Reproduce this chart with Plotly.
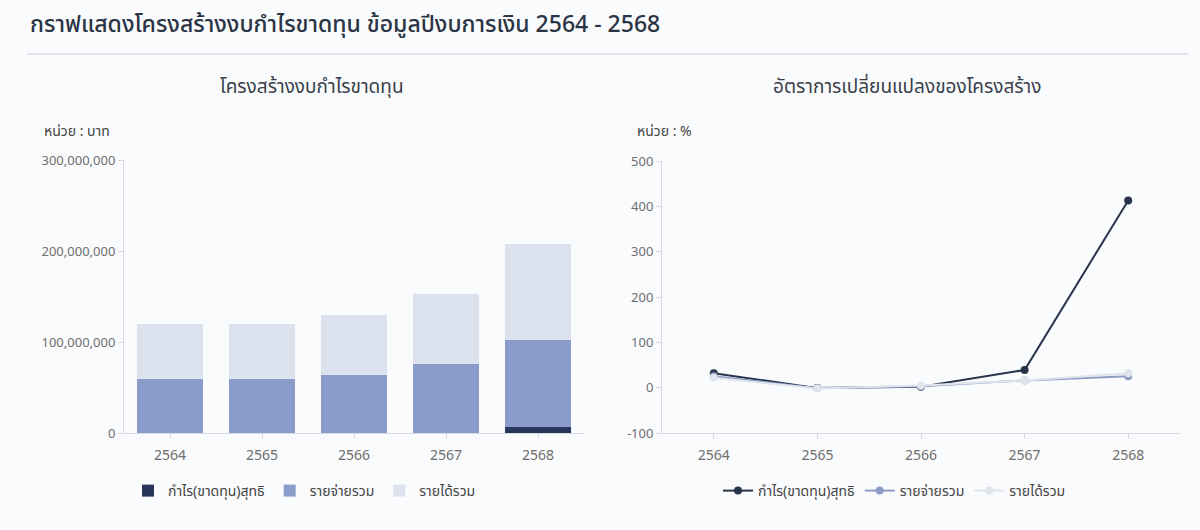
import plotly.graph_objects as go

years = ["2564", "2565", "2566", "2567", "2568"]

# Left chart (บาท) – stacked values
profit = [400000, 400000, 400000, 500000, 6300000]
expense = [58600000, 58600000, 63800000, 75800000, 96300000]
income = [60500000, 60900000, 65100000, 76900000, 105500000]

# Right chart (%) – rate of change
profit_pct = [32, -1, 2, 39, 413]
expense_pct = [25, -1, 3, 16, 25]
income_pct = [22, -2, 5, 16, 32]

names = ["กำไร(ขาดทุน)สุทธิ", "รายจ่ายรวม", "รายได้รวม"]
bar_colors = ["#27365a", "#8a9dca", "#dde3ee"]
line_colors = ["#27344a", "#8d9dc6", "#e0e4ec"]

W, H = 1200, 530
def px(x): return x / W
def py(y): return 1 - y / H

FONT = "Noto Sans Thai, Kanit, Prompt, Noto Sans, DejaVu Sans, sans-serif"
GRAY = "#6e6e6e"
AX = "#d6d9df"

fig = go.Figure()

for vals, nm, col in zip([profit, expense, income], names, bar_colors):
    fig.add_trace(go.Bar(x=years, y=vals, name=nm, marker=dict(color=col, line=dict(width=0)),
                         xaxis="x", yaxis="y", legend="legend", hoverinfo="skip"))

for vals, nm, col in zip([profit_pct, expense_pct, income_pct], names, line_colors):
    fig.add_trace(go.Scatter(x=years, y=vals, name=nm, mode="lines+markers",
                             line=dict(color=col, width=2), marker=dict(color=col, size=8),
                             xaxis="x2", yaxis="y2", legend="legend2", hoverinfo="skip"))

common_x = dict(type="category", showgrid=False, showline=True, linecolor=AX, linewidth=1,
                ticks="outside", ticklen=5, tickcolor=AX, ticklabelstandoff=4,
                tickfont=dict(size=14, color=GRAY, family=FONT), zeroline=False)
common_y = dict(showgrid=False, showline=True, linecolor=AX, linewidth=1,
                ticks="outside", ticklen=5, tickcolor=AX,
                tickfont=dict(size=13, color=GRAY, family=FONT), zeroline=False)

fig.update_layout(
    width=W, height=H,
    margin=dict(l=0, r=0, t=0, b=0, pad=0, autoexpand=False),
    paper_bgcolor="#fafbfd", plot_bgcolor="#fafbfd",
    barmode="stack", bargap=0.29,
    font=dict(family=FONT, color="#333"),
    xaxis=dict(domain=[px(124), px(584)], anchor="y", range=[-0.5, 4.5], **common_x),
    yaxis=dict(domain=[py(433), py(160)], anchor="x", range=[0, 300000000],
               tickvals=[0, 100000000, 200000000, 300000000],
               ticktext=["0", "100,000,000", "200,000,000", "300,000,000"], **common_y),
    xaxis2=dict(domain=[px(662), px(1180)], anchor="y2", range=[-0.5, 4.5], **common_x),
    yaxis2=dict(domain=[py(433), py(161)], anchor="x2", range=[-100, 500],
                tickvals=[-100, 0, 100, 200, 300, 400, 500], **common_y),
    legend=dict(orientation="h", x=px(128), y=py(491), xanchor="left", yanchor="middle",
                traceorder="normal",
                font=dict(size=14, color="#444", family=FONT), bgcolor="rgba(0,0,0,0)",
                itemclick=False),
    legend2=dict(orientation="h", x=px(718), y=py(491), xanchor="left", yanchor="middle",
                 traceorder="normal",
                 font=dict(size=14, color="#444", family=FONT), bgcolor="rgba(0,0,0,0)",
                 itemclick=False),
    showlegend=True,
)

ann = [
    dict(text="กราฟแสดงโครงสร้างงบกำไรขาดทุน ข้อมูลปีงบการเงิน 2564 - 2568", x=px(28), y=py(25),
         xanchor="left", yanchor="middle", font=dict(size=23, color="#2b3444", family=FONT, weight=500)),
    dict(text="โครงสร้างงบกำไรขาดทุน", x=px(312), y=py(88), xanchor="center", yanchor="middle",
         font=dict(size=19, color="#3a3f4a", family=FONT)),
    dict(text="อัตราการเปลี่ยนแปลงของโครงสร้าง", x=px(907), y=py(88), xanchor="center", yanchor="middle",
         font=dict(size=19, color="#3a3f4a", family=FONT)),
    dict(text="หน่วย : บาท", x=px(42), y=py(132), xanchor="left", yanchor="middle",
         font=dict(size=14, color="#444", family=FONT)),
    dict(text="หน่วย : %", x=px(635), y=py(132), xanchor="left", yanchor="middle",
         font=dict(size=14, color="#444", family=FONT)),
]
for a in ann:
    a.update(xref="paper", yref="paper", showarrow=False)
fig.update_layout(annotations=ann)

fig.add_shape(type="line", xref="paper", yref="paper", x0=px(27), x1=px(1188), y0=py(54), y1=py(54),
              line=dict(color="#dfe2e8", width=2))

fig.write_html("out.html", config={"displayModeBar": False})
